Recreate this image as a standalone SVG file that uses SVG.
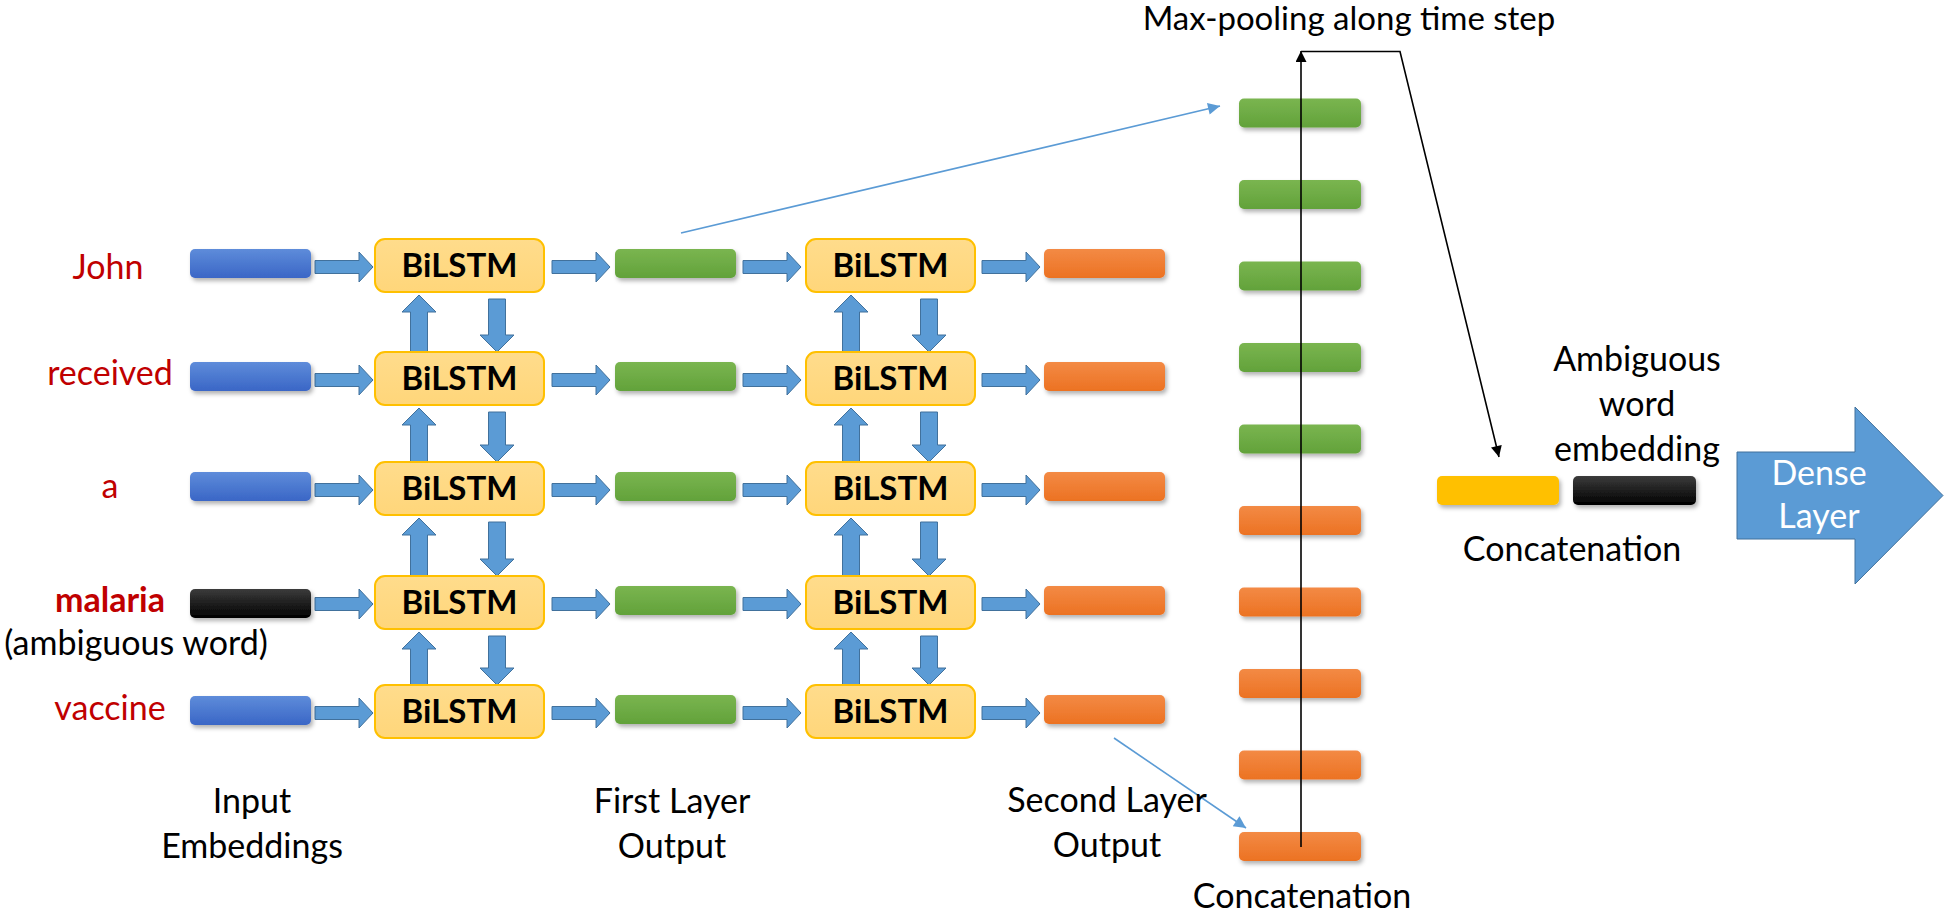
<svg xmlns="http://www.w3.org/2000/svg" width="1945" height="916" viewBox="0 0 1945 916">
<defs>
<style>
text{font-family:Lato,"Open Sans","Liberation Sans",sans-serif;font-size:34px;fill:#000;text-anchor:middle}
.w{fill:#C00000}
.wb{fill:#C00000;font-weight:bold}
.bl{font-weight:bold;font-size:33px}
.wt{fill:#fff}
.box{fill:url(#gBox);stroke:#FFC000;stroke-width:2}
.arr{fill:#5B9BD5;stroke:#41719C;stroke-width:1}
.bar{filter:url(#sh)}
.thin{fill:none;stroke:#5B9BD5;stroke-width:1.6}
.blk{fill:none;stroke:#000;stroke-width:1.6}
</style>
<linearGradient id="gBlue" x1="0" y1="0" x2="0" y2="1"><stop offset="0" stop-color="#5E8CDA"/><stop offset="1" stop-color="#3A66C6"/></linearGradient>
<linearGradient id="gGreen" x1="0" y1="0" x2="0" y2="1"><stop offset="0" stop-color="#7AB550"/><stop offset="1" stop-color="#62A23A"/></linearGradient>
<linearGradient id="gOrange" x1="0" y1="0" x2="0" y2="1"><stop offset="0" stop-color="#F38A45"/><stop offset="1" stop-color="#EC7222"/></linearGradient>
<linearGradient id="gBlack" x1="0" y1="0" x2="0" y2="1"><stop offset="0" stop-color="#3C3C3C"/><stop offset="1" stop-color="#000"/></linearGradient>
<linearGradient id="gBox" x1="0" y1="0" x2="0" y2="1"><stop offset="0" stop-color="#FFDC8C"/><stop offset="1" stop-color="#FFD67A"/></linearGradient>
<filter id="sh" x="-10%" y="-30%" width="130%" height="180%"><feDropShadow dx="2" dy="3" stdDeviation="2" flood-color="#000" flood-opacity="0.3"/></filter>
<path id="harr" class="arr" d="M0,-6.5 H44 V-15 L58,0 L44,15 V6.5 H0 Z"/>
<marker id="mBlue" viewBox="0 0 10 10" refX="10" refY="5" markerWidth="15" markerHeight="12" markerUnits="userSpaceOnUse" orient="auto"><path d="M0,0 L10,5 L0,10 Z" fill="#5B9BD5"/></marker>
<marker id="mBlack" viewBox="0 0 10 10" refX="10" refY="5" markerWidth="14" markerHeight="11" markerUnits="userSpaceOnUse" orient="auto"><path d="M0,0 L10,5 L0,10 Z" fill="#000"/></marker>
</defs>
<rect width="1945" height="916" fill="#fff"/>

<g id="word-labels">
<text class="w" x="108" y="279">John</text>
<text class="w" x="110" y="385">received</text>
<text class="w" x="110" y="498">a</text>
<text class="wb" x="110" y="612">malaria</text>
<text x="136" y="655">(ambiguous word)</text>
<text class="w" x="110" y="720">vaccine</text>
</g>

<g id="connectors">
<use href="#harr" x="315" y="267"/><use href="#harr" x="552" y="267"/><use href="#harr" x="743" y="267"/><use href="#harr" x="982" y="267"/>
<use href="#harr" x="315" y="380"/><use href="#harr" x="552" y="380"/><use href="#harr" x="743" y="380"/><use href="#harr" x="982" y="380"/>
<use href="#harr" x="315" y="490"/><use href="#harr" x="552" y="490"/><use href="#harr" x="743" y="490"/><use href="#harr" x="982" y="490"/>
<use href="#harr" x="315" y="604"/><use href="#harr" x="552" y="604"/><use href="#harr" x="743" y="604"/><use href="#harr" x="982" y="604"/>
<use href="#harr" x="315" y="713"/><use href="#harr" x="552" y="713"/><use href="#harr" x="743" y="713"/><use href="#harr" x="982" y="713"/>
<path class="arr" d="M419,295 L436,312 H427.5 V352 H410.5 V312 H402 Z"/>
<path class="arr" d="M488.5,299 H505.5 V335 H514 L497,352 L480,335 H488.5 Z"/>
<path class="arr" d="M851,295 L868,312 H859.5 V352 H842.5 V312 H834 Z"/>
<path class="arr" d="M920.5,299 H937.5 V335 H946 L929,352 L912,335 H920.5 Z"/>
<path class="arr" d="M419,408 L436,425 H427.5 V462 H410.5 V425 H402 Z"/>
<path class="arr" d="M488.5,412 H505.5 V445 H514 L497,462 L480,445 H488.5 Z"/>
<path class="arr" d="M851,408 L868,425 H859.5 V462 H842.5 V425 H834 Z"/>
<path class="arr" d="M920.5,412 H937.5 V445 H946 L929,462 L912,445 H920.5 Z"/>
<path class="arr" d="M419,518 L436,535 H427.5 V576 H410.5 V535 H402 Z"/>
<path class="arr" d="M488.5,522 H505.5 V559 H514 L497,576 L480,559 H488.5 Z"/>
<path class="arr" d="M851,518 L868,535 H859.5 V576 H842.5 V535 H834 Z"/>
<path class="arr" d="M920.5,522 H937.5 V559 H946 L929,576 L912,559 H920.5 Z"/>
<path class="arr" d="M419,632 L436,649 H427.5 V685 H410.5 V649 H402 Z"/>
<path class="arr" d="M488.5,636 H505.5 V668 H514 L497,685 L480,668 H488.5 Z"/>
<path class="arr" d="M851,632 L868,649 H859.5 V685 H842.5 V649 H834 Z"/>
<path class="arr" d="M920.5,636 H937.5 V668 H946 L929,685 L912,668 H920.5 Z"/>
<line class="thin" x1="681" y1="233" x2="1220" y2="106" marker-end="url(#mBlue)"/>
<line class="thin" x1="1114" y1="738" x2="1246" y2="828" marker-end="url(#mBlue)"/>
</g>

<g id="input-embeddings">
<rect class="bar" x="190" y="249" width="121" height="29" rx="5" fill="url(#gBlue)"/>
<rect class="bar" x="190" y="362" width="121" height="29" rx="5" fill="url(#gBlue)"/>
<rect class="bar" x="190" y="472" width="121" height="29" rx="5" fill="url(#gBlue)"/>
<rect class="bar" x="190" y="589" width="121" height="29" rx="5" fill="url(#gBlack)"/>
<rect class="bar" x="190" y="696" width="121" height="29" rx="5" fill="url(#gBlue)"/>
</g>

<g id="bilstm-layer1">
<rect class="box" x="375" y="239" width="169" height="53" rx="10"/><text class="bl" x="459.5" y="277">BiLSTM</text>
<rect class="box" x="375" y="352" width="169" height="53" rx="10"/><text class="bl" x="459.5" y="390">BiLSTM</text>
<rect class="box" x="375" y="462" width="169" height="53" rx="10"/><text class="bl" x="459.5" y="500">BiLSTM</text>
<rect class="box" x="375" y="576" width="169" height="53" rx="10"/><text class="bl" x="459.5" y="614">BiLSTM</text>
<rect class="box" x="375" y="685" width="169" height="53" rx="10"/><text class="bl" x="459.5" y="723">BiLSTM</text>
</g>

<g id="first-layer-output">
<rect class="bar" x="615" y="249" width="121" height="29" rx="5" fill="url(#gGreen)"/>
<rect class="bar" x="615" y="362" width="121" height="29" rx="5" fill="url(#gGreen)"/>
<rect class="bar" x="615" y="472" width="121" height="29" rx="5" fill="url(#gGreen)"/>
<rect class="bar" x="615" y="586" width="121" height="29" rx="5" fill="url(#gGreen)"/>
<rect class="bar" x="615" y="695" width="121" height="29" rx="5" fill="url(#gGreen)"/>
</g>

<g id="bilstm-layer2">
<rect class="box" x="806" y="239" width="169" height="53" rx="10"/><text class="bl" x="890.5" y="277">BiLSTM</text>
<rect class="box" x="806" y="352" width="169" height="53" rx="10"/><text class="bl" x="890.5" y="390">BiLSTM</text>
<rect class="box" x="806" y="462" width="169" height="53" rx="10"/><text class="bl" x="890.5" y="500">BiLSTM</text>
<rect class="box" x="806" y="576" width="169" height="53" rx="10"/><text class="bl" x="890.5" y="614">BiLSTM</text>
<rect class="box" x="806" y="685" width="169" height="53" rx="10"/><text class="bl" x="890.5" y="723">BiLSTM</text>
</g>

<g id="second-layer-output">
<rect class="bar" x="1044" y="249" width="121" height="29" rx="5" fill="url(#gOrange)"/>
<rect class="bar" x="1044" y="362" width="121" height="29" rx="5" fill="url(#gOrange)"/>
<rect class="bar" x="1044" y="472" width="121" height="29" rx="5" fill="url(#gOrange)"/>
<rect class="bar" x="1044" y="586" width="121" height="29" rx="5" fill="url(#gOrange)"/>
<rect class="bar" x="1044" y="695" width="121" height="29" rx="5" fill="url(#gOrange)"/>
</g>

<g id="concatenation-column">
<rect class="bar" x="1239" y="98.5" width="122" height="29" rx="5" fill="url(#gGreen)"/>
<rect class="bar" x="1239" y="180" width="122" height="29" rx="5" fill="url(#gGreen)"/>
<rect class="bar" x="1239" y="261.5" width="122" height="29" rx="5" fill="url(#gGreen)"/>
<rect class="bar" x="1239" y="343" width="122" height="29" rx="5" fill="url(#gGreen)"/>
<rect class="bar" x="1239" y="424.5" width="122" height="29" rx="5" fill="url(#gGreen)"/>
<rect class="bar" x="1239" y="506" width="122" height="29" rx="5" fill="url(#gOrange)"/>
<rect class="bar" x="1239" y="587.5" width="122" height="29" rx="5" fill="url(#gOrange)"/>
<rect class="bar" x="1239" y="669" width="122" height="29" rx="5" fill="url(#gOrange)"/>
<rect class="bar" x="1239" y="750.5" width="122" height="29" rx="5" fill="url(#gOrange)"/>
<rect class="bar" x="1239" y="832" width="122" height="29" rx="5" fill="url(#gOrange)"/>
</g>

<g id="maxpool-connectors">
<line class="blk" x1="1301" y1="847" x2="1301" y2="51" marker-end="url(#mBlack)"/>
<polyline class="blk" points="1301,51.5 1400,51.5 1499,457" marker-end="url(#mBlack)"/>
</g>

<g id="final-concat">
<rect class="bar" x="1437" y="476" width="122" height="29" rx="5" fill="#FFC000"/>
<rect class="bar" x="1573" y="476" width="123" height="29" rx="5" fill="url(#gBlack)"/>
</g>

<g id="dense-layer">
<path d="M1737,452 H1855 V407 L1943,495.5 L1855,584 V539 H1737 Z" fill="#5B9BD5" stroke="#41719C" stroke-width="1"/>
<text class="wt" x="1819" y="485">Dense</text>
<text class="wt" x="1819" y="528">Layer</text>
</g>

<g id="labels">
<text x="252" y="813">Input</text>
<text x="252" y="858">Embeddings</text>
<text x="672" y="813">First Layer</text>
<text x="672" y="858">Output</text>
<text x="1107" y="812">Second Layer</text>
<text x="1107" y="857">Output</text>
<text x="1302" y="908">Concatenation</text>
<text x="1349" y="30" style="font-size:33px">Max-pooling along time step</text>
<text x="1637" y="371">Ambiguous</text>
<text x="1637" y="416">word</text>
<text x="1637" y="461">embedding</text>
<text x="1572" y="561">Concatenation</text>
</g>
</svg>
